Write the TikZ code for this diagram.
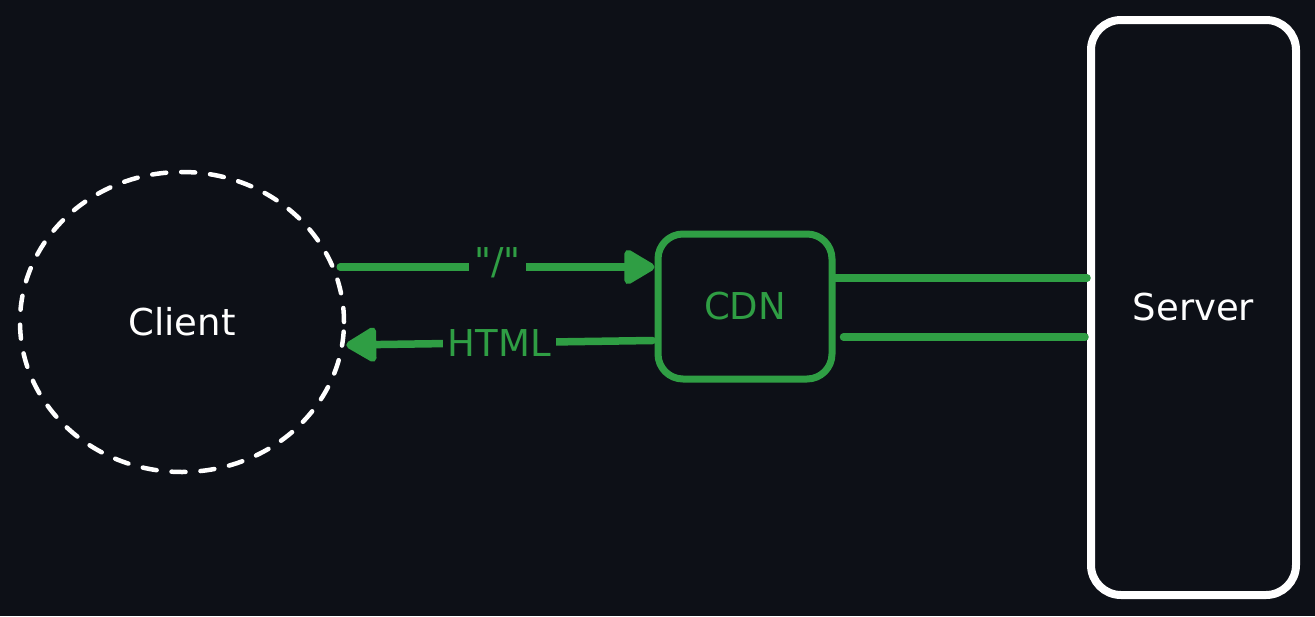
\documentclass[tikz,border=0pt]{standalone}
\usepackage{fontspec}
\setmainfont{DejaVu Sans}
\newfontfamily\plainfont{DejaVu Sans}
\usetikzlibrary{shapes.geometric,arrows.meta}
\definecolor{bg}{HTML}{0D1017}
\definecolor{grn}{HTML}{2F9E44}

\begin{document}
\begin{tikzpicture}[x=1pt,y=-1pt,
  box/.style={draw, rounded corners=#1, inner sep=0pt, font=\fontsize{37}{43}\selectfont},
  link/.style={grn, line width=7.5pt, line cap=round},
  tip/.style={-{Triangle[length=34pt,width=38pt,round]}},
  lbl/.style={fill=bg, text=grn, inner sep=5pt, font=\fontsize{37}{43}\selectfont}]
  \fill[bg] (0,0) rectangle (1315,616);
  \useasboundingbox (0,0) rectangle (1315,616);
  % nodes
  \node[ellipse, draw=white, line width=4.5pt, dash pattern=on 14pt off 15pt, line cap=round,
    minimum width=324pt, minimum height=300pt, inner sep=0pt, text=white,
    font=\fontsize{37}{43}\selectfont] (client) at (182,322) {Client};
  \node[box=25pt, draw=grn, text=grn, line width=7pt, minimum width=174pt, minimum height=145pt]
    (cdn) at (745,306.5) {CDN};
  \node[box=30pt, draw=white, text=white, line width=8pt, minimum width=205pt, minimum height=575pt]
    (server) at (1193.5,307.5) {Server};
  % client <-> cdn
  \draw[link, tip]
    ([xshift=-6pt,yshift=55pt]client.east) -- ([yshift=39.5pt]cdn.west)
    node[lbl, midway, yshift=4pt] {\plainfont "/"};
  \draw[link, tip]
    ([xshift=-2pt,yshift=-34pt]cdn.west) -- ([yshift=-23pt]client.east) node[lbl, midway] {HTML};
  % cdn -- server
  \draw[link] ([yshift=28.5pt]cdn.east) -- ([yshift=29.5pt]server.west);
  \draw[link] ([xshift=8pt,yshift=-30.5pt]cdn.east) -- ([xshift=-2pt,yshift=-29.5pt]server.west);
\end{tikzpicture}
\end{document}
